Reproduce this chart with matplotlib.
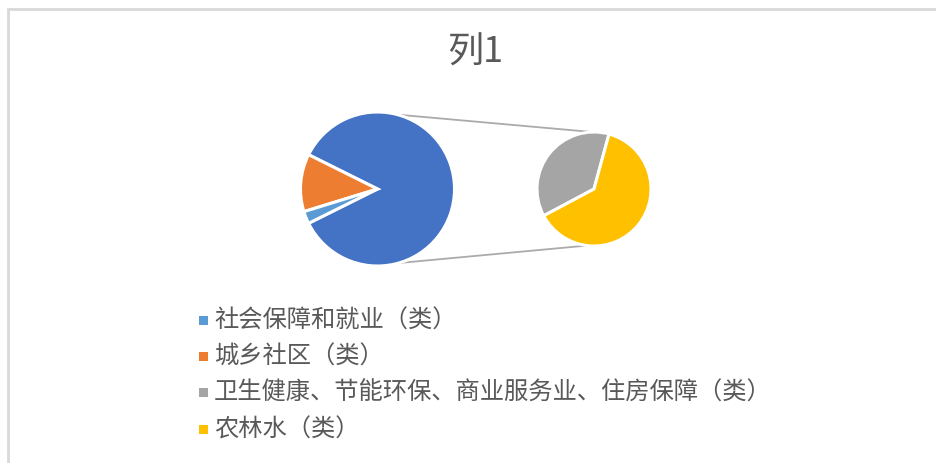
import matplotlib
matplotlib.use("Agg")
import matplotlib.pyplot as plt
import numpy as np
from matplotlib.patches import Rectangle

plt.rcParams['font.family'] = ['Noto Sans CJK SC', 'DejaVu Sans']

# ---- data ----
title = "列1"
categories = ["社会保障和就业（类）", "城乡社区（类）",
              "卫生健康、节能环保、商业服务业、住房保障（类）", "农林水（类）"]
values = [2.6, 12.1, 31.6, 53.7]
colors = ["#5B9BD5", "#ED7D31", "#A5A5A5", "#FFC000"]
other_color = "#4472C4"
n_secondary = 2  # last two points go to the secondary pie

W, H = 937, 464
fig = plt.figure(figsize=(W / 100, H / 100), dpi=100)
ax = fig.add_axes([0, 0, 1, 1])
ax.set_xlim(0, W)
ax.set_ylim(0, H)
ax.set_aspect('equal')
ax.axis('off')

# chart border
ax.plot([8, 8, W + 5], [-5, H - 10, H - 10], color="#D9D9D9", lw=2, solid_joinstyle='miter')

main_vals = values[:-n_secondary]
sec_vals = values[-n_secondary:]
other = sum(sec_vals)
total = sum(values)

# main pie: "other" slice centered at 0 degrees
mc = (377.5, 274)
mr = 77
main_data = [other] + main_vals[::-1]
main_cols = [other_color] + colors[:-n_secondary][::-1]
start = -other / total * 180
ax.pie(main_data, colors=main_cols, center=mc, radius=mr, startangle=start,
       counterclock=True, wedgeprops=dict(edgecolor='white', linewidth=2.2),
       frame=True)

# secondary pie
sc = (594, 274)
sr = 57
ax.pie(sec_vals, colors=colors[-n_secondary:], center=sc, radius=sr, startangle=74.7,
       counterclock=True, wedgeprops=dict(edgecolor='white', linewidth=2.2),
       frame=True)
ax.set_xlim(0, W)
ax.set_ylim(0, H)
ax.axis('off')

# connector lines
def pt(c, r, ang):
    a = np.deg2rad(ang)
    return c[0] + r * np.cos(a), c[1] + r * np.sin(a)

p1 = pt(mc, mr, 75); q1 = pt(sc, sr, 78)
p2 = pt(mc, mr, -74); q2 = pt(sc, sr, -97)
ax.plot([p1[0], q1[0]], [p1[1], q1[1]], color="#ABABAB", lw=1.3, zorder=0)
ax.plot([p2[0], q2[0]], [p2[1], q2[1]], color="#ABABAB", lw=1.3, zorder=0)

# title
ax.text(475, H - 53, title, ha='center', va='center', fontsize=26, color="#595959")

# legend
rows_y = [321, 357, 393, 430]
for lab, col, y in zip(categories, colors, rows_y):
    ax.add_patch(Rectangle((199, H - y - 4.5), 9, 9, facecolor=col, edgecolor='none'))
    ax.text(214, H - y, lab, ha='left', va='center', fontsize=17.5, color="#595959")

fig.savefig("out.png", dpi=100)
